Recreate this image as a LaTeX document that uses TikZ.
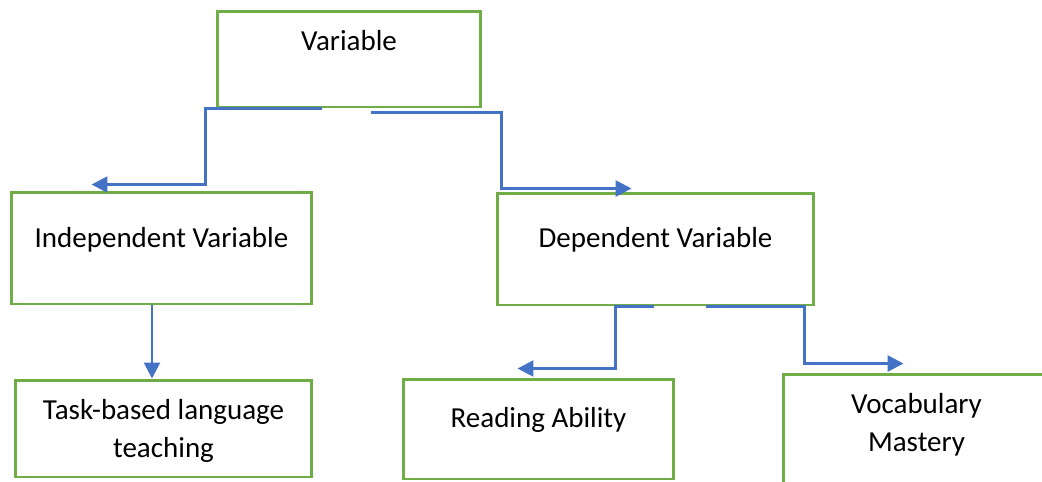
\documentclass[tikz,border=0pt]{standalone}
\usepackage{fontspec}
\setmainfont{Carlito}
\usetikzlibrary{arrows.meta}
\definecolor{boxgreen}{HTML}{70AD47}
\definecolor{linkblue}{HTML}{4472C4}
\tikzset{
	box/.style={draw=boxgreen, line width=1.7pt, inner sep=0pt, fill=white},
	txt/.style={font=\fontsize{16.5}{21.5}\selectfont, align=center, text=black},
	link/.style={draw=linkblue, line width=1.5pt, -{Triangle[length=9pt, width=9pt]}}
}
\begin{document}
\begin{tikzpicture}[x=0.02cm, y=-0.02cm]
	\useasboundingbox (0, 0) rectangle (1042, 481);
	\clip (0, 0) rectangle (1042, 481);

	\node[box, minimum width=5.28cm, minimum height=1.92cm, label={[txt, yshift=10.5pt]center:Variable}] (var) at (349, 59) {};
	\node[box, minimum width=6.02cm, minimum height=2.24cm, label={[txt, yshift=4.8pt]center:Independent Variable}] (ind) at (161.5, 248) {};
	\node[box, minimum width=6.34cm, minimum height=2.24cm, label={[txt, yshift=5.4pt]center:Dependent Variable}] (dep) at (655.5, 249) {};
	\node[box, minimum width=5.94cm, minimum height=1.94cm, label={[txt, yshift=-1.4pt]center:Task-based language\\teaching}] (task) at (163.5, 428.5) {};
	\node[box, minimum width=5.42cm, minimum height=2.00cm, label={[txt, yshift=5.4pt]center:Reading Ability}] (read) at (538.5, 429) {};
	\node[box, minimum width=5.34cm, minimum height=2.32cm, label={[txt, yshift=4pt]center:Vocabulary\\Mastery}] (voc) at (916.5, 432) {};

	\draw[link] ([shift={(106, 0)}]var.south west) -- ++(-116, 0) |- ([shift={(82, -6)}]ind.north west);
	\draw[link] ([shift={(155, 4)}]var.south west) -- ++(131, 0) |- ([shift={(136, -3)}]dep.north west);
	\draw[link] ([shift={(-9.5, 0)}]ind.south) -- ([shift={(-9.5, 0)}]ind.south |- task.north);
	\draw[link] ([shift={(158, 0)}]dep.south west) -- ++(-38, 0) |- ([shift={(116, -9)}]read.north west);
	\draw[link] ([shift={(210, 0)}]dep.south west) -- ++(99, 0) |- ([shift={(122, -9)}]voc.north west);
\end{tikzpicture}
\end{document}
